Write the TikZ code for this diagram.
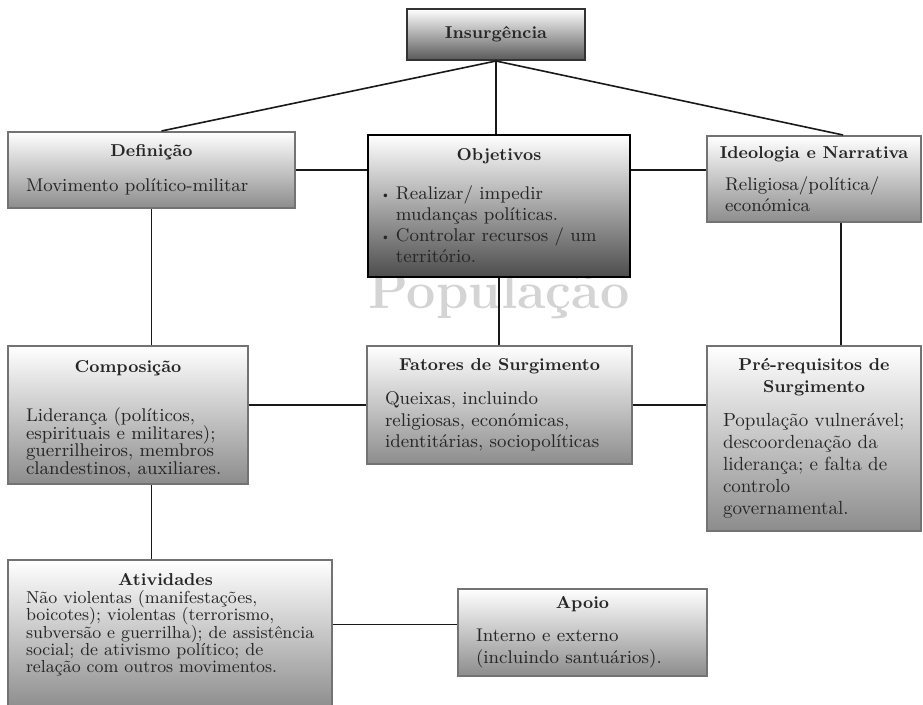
\documentclass[tikz,border=0pt]{standalone}
\usepackage{tikz}
\usetikzlibrary{positioning,calc}
\setlength{\lineskiplimit}{-5pt}

\newcommand{\boxhead}[2]{\makebox[#1]{\fontsize{8.6}{11}\selectfont\bfseries #2}}
\newcommand{\dotitem}{\hspace*{5pt}\llap{\raisebox{0.9pt}{\fontsize{6}{6}\selectfont\textbullet}\hspace{2.5pt}}}

\begin{document}
\begin{tikzpicture}[
  x=0.5pt, y=-0.5pt,
  box/.style={draw=black!55, line width=1pt, top color=white, bottom color=black!45,
    anchor=north west, inner xsep=9pt, inner ysep=0pt, align=left,
    font=\fontsize{9.2}{10.5}\selectfont, text=black!85},
  headbox/.style={draw=black!80, line width=1pt, top color=white, bottom color=black!65,
    anchor=north west, minimum width=89pt, minimum height=25.5pt,
    font=\fontsize{8.6}{10}\selectfont\bfseries, text=black!85},
  link/.style={line width=0.8pt, black!90}
]
\useasboundingbox (0,0) rectangle (923,705);

% Watermark
\node[text=black!17, font=\fontsize{26}{26}\selectfont\bfseries] (pop) at (499,296) {População};

% Top level
\node[headbox] (ins) at (406,8) {Insurgência};

% First row
\node[box, minimum width=143.5pt, minimum height=38pt] (def) at (7,131)
  {\boxhead{125.5pt}{Definição}\\[7pt]Movimento político-militar};
\node[box, draw=black, bottom color=black!70, minimum width=131pt, minimum height=71pt] (obj) at (367,134)
  {\boxhead{113pt}{Objetivos}\\[9pt]
   \dotitem Realizar/ impedir\\
   \hspace*{5pt}mudanças políticas.\\
   \dotitem Controlar recursos / um\\
   \hspace*{5pt}território.};
\node[box, minimum width=107pt, minimum height=43pt] (ide) at (706,135)
  {\boxhead{89pt}{Ideologia e Narrativa}\\[5.5pt]Religiosa/política/\\económica};

% Second row
\node[box, minimum width=120pt, minimum height=69pt, font=\fontsize{9.2}{8.8}\selectfont] (comp) at (7,345)
  {\rule{0pt}{10pt}\boxhead{102pt}{Composição}\\[16pt]Liderança (políticos,\\espirituais e militares);\\guerrilheiros, membros\\clandestinos, auxiliares.};
\node[box, minimum width=132.5pt, minimum height=59pt, font=\fontsize{9.2}{10.75}\selectfont] (fat) at (366,345)
  {\boxhead{114.5pt}{Fatores de Surgimento}\\[6.5pt]Queixas, incluindo\\religiosas, económicas,\\identitárias, sociopolíticas};
\node[box, inner xsep=8pt, minimum width=107pt, minimum height=92.5pt, font=\fontsize{9.5}{11}\selectfont] (pre) at (706,345)
  {\boxhead{91pt}{Pré-requisitos de}\\\boxhead{91pt}{Surgimento}\\[6pt]População vulnerável;\\descoordenação da\\liderança; e falta de\\controlo\\governamental.};

% Third row
\node[box, minimum width=157.5pt, minimum height=75pt, font=\fontsize{8.7}{8.6}\selectfont] (ativ) at (7,559)
  {\boxhead{139.5pt}{Atividades}\\[0.5pt]Não violentas (manifestações,\\boicotes); violentas (terrorismo,\\subversão e guerrilha); de assistência\\social; de ativismo político; de\\relação com outros movimentos.\rule[-12pt]{0pt}{0pt}};
\node[box, minimum width=124.5pt, minimum height=43.5pt, font=\fontsize{9.2}{11}\selectfont] (apo) at (457,588)
  {\boxhead{106.5pt}{Apoio}\\[5.5pt]Interno e externo\\(incluindo santuários).};

% Links
\draw[link] (ins.south) -- ([xshift=5pt]def.north);
\draw[link] (ins.south) -- (ins.south |- obj.north);
\draw[link] (ins.south) -- ([xshift=14.5pt]ide.north);
\draw[link] (def.east) -- (def.east -| obj.west);
\draw[link] (def.east -| obj.east) -- (def.east -| ide.west);
\draw[link] (def.south) -- (def.south |- comp.north);
\draw[link] (obj.south) -- (obj.south |- fat.north);
\draw[link] ([xshift=13.5pt]ide.south) -- ([xshift=13.5pt]pre.north);
\draw[link] (fat.west -| comp.east) -- (fat.west);
\draw[link] (fat.east) -- (fat.east -| pre.west);
\draw[link] (def.south |- comp.south) -- (def.south |- ativ.north);
\draw[link] ([yshift=4pt]apo.west -| ativ.east) -- ([yshift=4pt]apo.west);

\end{tikzpicture}
\end{document}
